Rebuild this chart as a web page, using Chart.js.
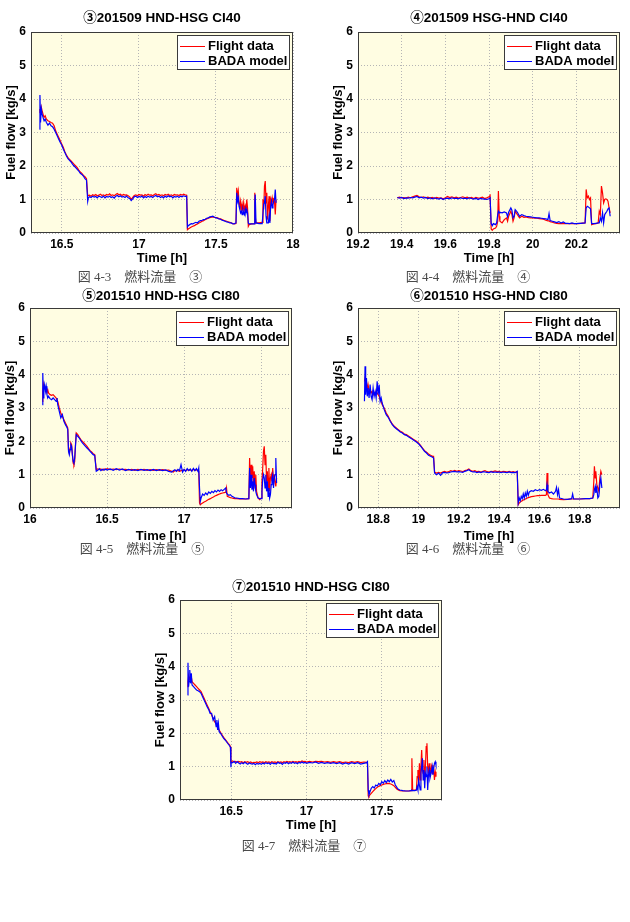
<!DOCTYPE html>
<html>
<head>
<meta charset="utf-8">
<script src="https://cdn.jsdelivr.net/npm/chart.js@4.4.1/dist/chart.umd.min.js"></script>
<style>
  html, body { margin: 0; padding: 0; background: #fff; }
  #page { position: relative; width: 630px; height: 922px; overflow: hidden; }
  .cap {
    position: absolute; transform: translate(-50%, -50%); white-space: nowrap;
    font-family: "Liberation Serif", "Noto Sans CJK JP", serif; font-size: 13px; color: #4a4a4a;
  }
</style>
</head>
<body>
<div id="page"></div>
<script>
// ── shared ──────────────────────────────────────────────
const seriesLabels = ["Flight data", "BADA model"];
const seriesColors = ["#ff0000", "#0000ff"];
const yTicks = [0, 1, 2, 3, 4, 5, 6];
const yTitle = "Fuel flow [kg/s]";
const xTitle = "Time [h]";

// ── ③ 201509 HND-HSG CI40 ───────────────────────────────
const title3 = "③201509 HND-HSG CI40";
const caption3 = "図 4-3　燃料流量　③";
const xRange3 = [16.3, 18];
const xTicks3 = [16.5, 17, 17.5, 18];
const time3 = [
  16.355, 16.358, 16.362, 16.367, 16.372, 16.378, 16.385, 16.392, 16.40, 16.41,
  16.42, 16.43, 16.44, 16.45, 16.46, 16.47, 16.48, 16.49, 16.50, 16.51,
  16.52, 16.53, 16.54, 16.55, 16.56, 16.57, 16.58, 16.59, 16.60, 16.61,
  16.62, 16.63, 16.64, 16.65, 16.66, 16.668, 16.672, 16.68, 16.69, 16.70,
  16.71, 16.72, 16.73, 16.74, 16.75, 16.76, 16.77, 16.78, 16.79, 16.80,
  16.81, 16.82, 16.83, 16.84, 16.85, 16.86, 16.87, 16.88, 16.89, 16.90,
  16.91, 16.92, 16.93, 16.94, 16.95, 16.96, 16.97, 16.98, 16.99, 17.00,
  17.01, 17.02, 17.03, 17.04, 17.05, 17.06, 17.07, 17.08, 17.09, 17.10,
  17.11, 17.12, 17.13, 17.14, 17.15, 17.16, 17.17, 17.18, 17.19, 17.20,
  17.21, 17.22, 17.23, 17.24, 17.25, 17.26, 17.27, 17.28, 17.29, 17.30,
  17.31, 17.315, 17.32, 17.33, 17.34, 17.35, 17.36, 17.37, 17.38, 17.39,
  17.40, 17.41, 17.42, 17.43, 17.44, 17.45, 17.46, 17.47, 17.48, 17.49,
  17.50, 17.51, 17.52, 17.53, 17.54, 17.55, 17.56, 17.57, 17.58, 17.59,
  17.60, 17.61, 17.62, 17.63, 17.635, 17.64, 17.645, 17.65, 17.655, 17.66,
  17.665, 17.67, 17.675, 17.68, 17.685, 17.69, 17.695, 17.70, 17.705, 17.71,
  17.715, 17.73, 17.75, 17.752, 17.755, 17.76, 17.78, 17.80, 17.805, 17.81,
  17.815, 17.82, 17.825, 17.83, 17.835, 17.84, 17.845, 17.85, 17.855, 17.86,
  17.865, 17.87, 17.875, 17.88, 17.885, 17.89
];
const flight3 = [
  3.6, 3.7, 3.55, 3.75, 3.65, 3.55, 3.45, 3.5, 3.4, 3.35,
  3.33, 3.3, 3.28, 3.2, 3.05, 2.95, 2.85, 2.75, 2.65, 2.55,
  2.42, 2.33, 2.25, 2.2, 2.15, 2.1, 2.05, 2.0, 1.95, 1.88,
  1.82, 1.78, 1.72, 1.68, 1.62, 1.1, 1.12, 1.13, 1.1, 1.14,
  1.12, 1.15, 1.11, 1.13, 1.16, 1.12, 1.14, 1.11, 1.15, 1.13,
  1.17, 1.12, 1.14, 1.11, 1.15, 1.18, 1.14, 1.16, 1.12, 1.15,
  1.13, 1.14, 1.11, 1.08, 1.0, 1.06, 1.12, 1.14, 1.11, 1.15,
  1.13, 1.14, 1.1, 1.15, 1.12, 1.16, 1.13, 1.14, 1.11, 1.15,
  1.17, 1.13, 1.15, 1.12, 1.14, 1.11, 1.15, 1.13, 1.16, 1.12,
  1.14, 1.11, 1.15, 1.13, 1.14, 1.12, 1.15, 1.13, 1.16, 1.14,
  1.13, 0.1, 0.12, 0.15, 0.18, 0.2, 0.22, 0.25, 0.27, 0.3,
  0.32, 0.35, 0.37, 0.4, 0.42, 0.44, 0.46, 0.47, 0.48, 0.47,
  0.46, 0.45, 0.43, 0.42, 0.4, 0.38, 0.36, 0.35, 0.33, 0.32,
  0.3, 0.28, 0.27, 0.28, 1.35, 1.1, 1.25, 0.9, 0.8, 0.95,
  0.7, 0.85, 0.65, 0.9, 0.7, 0.8, 0.6, 1.0, 0.75, 0.2,
  0.25, 0.27, 0.28, 1.2, 0.5, 0.3, 0.3, 0.32, 1.0, 0.7,
  1.4, 1.55, 0.9, 1.2, 0.4, 0.8, 1.1, 0.35, 1.0, 0.9,
  1.05, 0.9, 1.0, 0.95, 0.55, 1.0
];
const bada3 = [
  3.1, 4.12, 3.3, 3.7, 3.55, 3.45, 3.35, 3.4, 3.3, 3.22,
  3.28, 3.2, 3.17, 3.1, 3.0, 2.9, 2.8, 2.7, 2.62, 2.5,
  2.4, 2.3, 2.22, 2.17, 2.12, 2.05, 2.0, 1.95, 1.9, 1.85,
  1.78, 1.75, 1.7, 1.62, 1.58, 0.95, 1.05, 1.08, 1.06, 1.1,
  1.07, 1.09, 1.05, 1.1, 1.08, 1.06, 1.1, 1.05, 1.09, 1.07,
  1.1, 1.06, 1.08, 1.04, 1.1, 1.12, 1.08, 1.11, 1.07, 1.09,
  1.06, 1.1, 1.05, 1.03, 0.97, 1.02, 1.08, 1.1, 1.06, 1.09,
  1.07, 1.1, 1.05, 1.09, 1.06, 1.1, 1.07, 1.09, 1.06, 1.1,
  1.12, 1.08, 1.1, 1.06, 1.09, 1.05, 1.1, 1.07, 1.11, 1.08,
  1.1, 1.05, 1.09, 1.07, 1.1, 1.06, 1.1, 1.08, 1.11, 1.09,
  1.1, 0.18, 0.22, 0.25, 0.28, 0.27, 0.3, 0.32, 0.3, 0.35,
  0.37, 0.38, 0.4, 0.41, 0.44, 0.45, 0.48, 0.49, 0.5, 0.47,
  0.46, 0.44, 0.42, 0.41, 0.38, 0.37, 0.35, 0.33, 0.32, 0.3,
  0.3, 0.27, 0.28, 0.3, 1.2, 0.95, 1.05, 0.8, 0.7, 0.6,
  0.65, 0.55, 0.7, 0.6, 0.55, 0.72, 0.6, 0.7, 0.6, 0.3,
  0.27, 0.27, 0.27, 0.9, 1.15, 0.3, 0.28, 0.28, 0.28, 0.85,
  0.9, 1.1, 0.5, 0.3, 0.3, 0.3, 0.5, 0.3, 0.8, 0.95,
  0.75, 0.85, 0.95, 1.0, 1.3, 0.9
];

// ── ④ 201509 HSG-HND CI40 ───────────────────────────────
const title4 = "④201509 HSG-HND CI40";
const caption4 = "図 4-4　燃料流量　④";
const xRange4 = [19.2, 20.4];
const xTicks4 = [19.2, 19.4, 19.6, 19.8, 20, 20.2];
const time4 = [
  19.38, 19.39, 19.40, 19.41, 19.42, 19.43, 19.44, 19.45, 19.46, 19.47,
  19.48, 19.49, 19.50, 19.51, 19.52, 19.53, 19.54, 19.55, 19.56, 19.57,
  19.58, 19.59, 19.60, 19.61, 19.62, 19.63, 19.64, 19.65, 19.66, 19.67,
  19.68, 19.69, 19.70, 19.71, 19.72, 19.73, 19.74, 19.75, 19.76, 19.77,
  19.78, 19.79, 19.80, 19.805, 19.81, 19.815, 19.82, 19.83, 19.835, 19.84,
  19.843, 19.847, 19.85, 19.86, 19.87, 19.88, 19.885, 19.89, 19.90, 19.905,
  19.91, 19.915, 19.92, 19.93, 19.94, 19.95, 19.96, 19.97, 19.98, 19.99,
  20.00, 20.01, 20.02, 20.03, 20.04, 20.05, 20.06, 20.07, 20.075, 20.08,
  20.09, 20.10, 20.11, 20.12, 20.13, 20.14, 20.15, 20.16, 20.17, 20.18,
  20.19, 20.20, 20.21, 20.22, 20.24, 20.245, 20.25, 20.255, 20.26, 20.265,
  20.27, 20.28, 20.29, 20.30, 20.305, 20.31, 20.315, 20.32, 20.325, 20.33,
  20.335, 20.34, 20.345, 20.35, 20.355
];
const flight4 = [
  1.05, 1.07, 1.05, 1.06, 1.04, 1.07, 1.05, 1.08, 1.1, 1.12,
  1.08, 1.06, 1.08, 1.05, 1.07, 1.04, 1.06, 1.03, 1.06, 1.04,
  1.05, 1.02, 1.05, 1.09, 1.06, 1.08, 1.05, 1.07, 1.04, 1.06,
  1.08, 1.05, 1.07, 1.04, 1.06, 1.03, 1.06, 1.04, 1.05, 1.07,
  1.03, 1.05, 1.08, 1.12, 0.12, 0.08, 0.12, 0.15, 0.2, 0.35,
  1.25, 0.5, 0.35, 0.3, 0.4, 0.45, 0.35, 0.5, 0.65, 0.55,
  0.35, 0.45, 0.65, 0.55, 0.45, 0.5, 0.47, 0.48, 0.46, 0.45,
  0.45, 0.44, 0.44, 0.43, 0.42, 0.41, 0.38, 0.36, 0.36, 0.34,
  0.32, 0.3, 0.29, 0.28, 0.28, 0.28, 0.28, 0.28, 0.28, 0.28,
  0.28, 0.28, 0.28, 0.29, 0.3, 1.3, 1.05, 1.1, 1.0, 1.05,
  0.25, 0.27, 0.28, 0.3, 0.65, 0.55, 1.4, 1.2, 0.9, 1.0,
  1.02, 1.0, 0.95, 0.75, 0.6
];
const bada4 = [
  1.06, 1.04, 1.06, 1.03, 1.05, 1.04, 1.06, 1.05, 1.07, 1.09,
  1.05, 1.07, 1.04, 1.06, 1.03, 1.05, 1.02, 1.05, 1.03, 1.01,
  1.04, 1.0, 1.03, 1.04, 1.02, 1.05, 1.03, 1.04, 1.02, 1.05,
  1.03, 1.04, 1.02, 1.05, 1.03, 1.01, 1.04, 1.0, 1.03, 1.02,
  1.01, 1.0, 1.02, 1.05, 0.28, 0.22, 0.28, 0.25, 0.3, 0.55,
  0.65, 0.6, 0.62, 0.6, 0.63, 0.6, 0.48, 0.62, 0.75, 0.68,
  0.45, 0.5, 0.7, 0.62, 0.5, 0.55, 0.52, 0.5, 0.49, 0.48,
  0.47, 0.46, 0.45, 0.45, 0.44, 0.43, 0.42, 0.4, 0.58, 0.37,
  0.35, 0.33, 0.31, 0.34, 0.3, 0.33, 0.29, 0.29, 0.28, 0.3,
  0.28, 0.28, 0.29, 0.29, 0.3, 0.75, 0.8, 0.78, 0.75, 0.72,
  0.28, 0.28, 0.29, 0.3, 0.3, 0.45, 0.35, 0.6, 0.3, 0.55,
  0.6, 0.65, 0.72, 0.75, 0.5
];

// ── ⑤ 201510 HND-HSG CI80 ───────────────────────────────
const title5 = "⑤201510 HND-HSG CI80";
const caption5 = "図 4-5　燃料流量　⑤";
const xRange5 = [16, 17.7];
const xTicks5 = [16, 16.5, 17, 17.5];
const time5 = [
  16.08, 16.083, 16.087, 16.09, 16.095, 16.10, 16.105, 16.11, 16.115, 16.12,
  16.13, 16.14, 16.15, 16.16, 16.17, 16.175, 16.18, 16.19, 16.20, 16.21,
  16.22, 16.23, 16.24, 16.245, 16.25, 16.255, 16.26, 16.265, 16.27, 16.275,
  16.28, 16.285, 16.29, 16.295, 16.30, 16.31, 16.32, 16.33, 16.34, 16.35,
  16.36, 16.37, 16.38, 16.39, 16.40, 16.41, 16.42, 16.43, 16.44, 16.45,
  16.46, 16.47, 16.48, 16.49, 16.50, 16.52, 16.54, 16.56, 16.58, 16.60,
  16.62, 16.64, 16.66, 16.68, 16.70, 16.72, 16.74, 16.76, 16.78, 16.80,
  16.82, 16.84, 16.86, 16.88, 16.90, 16.92, 16.93, 16.94, 16.95, 16.96,
  16.97, 16.98, 16.99, 17.00, 17.01, 17.02, 17.03, 17.04, 17.05, 17.06,
  17.07, 17.08, 17.09, 17.095, 17.10, 17.105, 17.11, 17.12, 17.13, 17.14,
  17.15, 17.16, 17.17, 17.18, 17.19, 17.20, 17.21, 17.22, 17.23, 17.24,
  17.25, 17.26, 17.27, 17.275, 17.28, 17.29, 17.30, 17.31, 17.32, 17.33,
  17.34, 17.36, 17.38, 17.40, 17.42, 17.425, 17.43, 17.435, 17.44, 17.445,
  17.45, 17.455, 17.46, 17.465, 17.47, 17.48, 17.49, 17.50, 17.505, 17.51,
  17.515, 17.52, 17.525, 17.53, 17.535, 17.54, 17.545, 17.55, 17.555, 17.56,
  17.565, 17.57, 17.575, 17.58, 17.585, 17.59, 17.595, 17.60
];
const flight5 = [
  3.2, 3.5, 3.7, 3.6, 3.65, 3.6, 3.55, 3.5, 3.55, 3.45,
  3.4, 3.38, 3.4, 3.35, 3.3, 3.25, 3.2, 3.0, 2.85, 2.75,
  2.65, 2.55, 2.45, 2.4, 1.75, 1.65, 1.8, 1.95, 1.9, 1.6,
  1.35, 1.3, 1.4, 1.9, 2.25, 2.2, 2.12, 2.05, 2.0, 1.95,
  1.9, 1.85, 1.78, 1.72, 1.68, 1.63, 1.6, 1.15, 1.17, 1.15,
  1.17, 1.14, 1.17, 1.15, 1.18, 1.15, 1.17, 1.15, 1.17, 1.15,
  1.16, 1.14, 1.16, 1.13, 1.16, 1.14, 1.16, 1.13, 1.15, 1.13,
  1.15, 1.13, 1.15, 1.13, 1.14, 1.1, 1.08, 1.12, 1.13, 1.12,
  1.1, 1.12, 1.13, 1.14, 1.12, 1.15, 1.13, 1.15, 1.12, 1.16,
  1.13, 1.15, 1.12, 1.1, 0.15, 0.1, 0.12, 0.15, 0.18, 0.2,
  0.23, 0.26, 0.28, 0.31, 0.33, 0.36, 0.38, 0.4, 0.42, 0.44,
  0.45, 0.46, 0.47, 0.6, 0.35, 0.33, 0.31, 0.3, 0.29, 0.28,
  0.28, 0.27, 0.27, 0.27, 0.28, 1.5, 0.8, 1.3, 0.9, 1.25,
  0.7, 1.1, 0.6, 1.0, 0.5, 0.3, 0.25, 0.3, 0.8, 1.2,
  1.7, 1.85, 1.3, 1.6, 0.8, 1.1, 0.6, 1.2, 0.5, 0.9,
  1.0, 0.8, 1.2, 0.7, 1.0, 0.8, 0.65, 0.9
];
const bada5 = [
  3.1, 4.05, 3.3, 3.55, 3.7, 3.5, 3.65, 3.4, 3.3, 3.35,
  3.28, 3.25, 3.3, 3.25, 3.2, 3.3, 3.1, 2.9, 2.7, 2.8,
  2.6, 2.5, 2.42, 2.35, 1.7, 1.6, 1.75, 1.9, 1.85, 1.6,
  1.4, 1.35, 1.5, 1.85, 2.2, 2.15, 2.1, 2.02, 1.95, 1.9,
  1.85, 1.8, 1.75, 1.7, 1.65, 1.6, 1.58, 1.1, 1.13, 1.18,
  1.12, 1.16, 1.13, 1.17, 1.14, 1.17, 1.13, 1.18, 1.14, 1.17,
  1.12, 1.16, 1.13, 1.15, 1.12, 1.16, 1.13, 1.15, 1.12, 1.16,
  1.12, 1.15, 1.12, 1.14, 1.1, 1.08, 1.12, 1.15, 1.1, 1.16,
  1.12, 1.3, 1.08, 1.16, 1.1, 1.18, 1.12, 1.17, 1.1, 1.19,
  1.12, 1.18, 1.1, 1.2, 0.6, 0.2, 0.3, 0.42, 0.38, 0.45,
  0.4, 0.48, 0.44, 0.5, 0.46, 0.52, 0.48, 0.54, 0.5, 0.55,
  0.52, 0.56, 0.6, 0.45, 0.42, 0.38, 0.4, 0.35, 0.33, 0.3,
  0.3, 0.28, 0.28, 0.27, 0.28, 1.2, 0.6, 1.0, 0.55, 0.8,
  0.5, 0.9, 0.7, 0.5, 0.4, 0.3, 0.28, 0.28, 0.5, 0.85,
  1.0, 0.9, 0.6, 1.0, 0.5, 0.8, 0.35, 0.6, 0.3, 0.4,
  0.7, 0.9, 1.0, 0.6, 0.9, 1.0, 1.5, 0.75
];

// ── ⑥ 201510 HSG-HND CI80 ───────────────────────────────
const title6 = "⑥201510 HSG-HND CI80";
const caption6 = "図 4-6　燃料流量　⑥";
const xRange6 = [18.7, 20];
const xTicks6 = [18.8, 19, 19.2, 19.4, 19.6, 19.8];
const time6 = [
  18.732, 18.735, 18.738, 18.742, 18.746, 18.75, 18.755, 18.76, 18.765, 18.77,
  18.775, 18.78, 18.785, 18.79, 18.795, 18.80, 18.805, 18.81, 18.815, 18.82,
  18.83, 18.84, 18.85, 18.86, 18.87, 18.88, 18.89, 18.90, 18.91, 18.92,
  18.93, 18.94, 18.95, 18.96, 18.97, 18.98, 18.99, 19.00, 19.01, 19.02,
  19.03, 19.04, 19.05, 19.06, 19.07, 19.075, 19.08, 19.085, 19.09, 19.10,
  19.11, 19.12, 19.13, 19.14, 19.15, 19.16, 19.17, 19.18, 19.19, 19.20,
  19.21, 19.22, 19.23, 19.24, 19.25, 19.26, 19.27, 19.28, 19.29, 19.30,
  19.31, 19.32, 19.33, 19.34, 19.35, 19.36, 19.37, 19.38, 19.39, 19.40,
  19.41, 19.42, 19.43, 19.44, 19.45, 19.46, 19.47, 19.48, 19.49, 19.495,
  19.50, 19.505, 19.51, 19.515, 19.52, 19.525, 19.53, 19.535, 19.54, 19.545,
  19.55, 19.56, 19.57, 19.58, 19.59, 19.60, 19.61, 19.62, 19.63, 19.635,
  19.638, 19.642, 19.65, 19.66, 19.67, 19.68, 19.685, 19.69, 19.695, 19.70,
  19.72, 19.74, 19.76, 19.765, 19.77, 19.80, 19.83, 19.85, 19.865, 19.87,
  19.873, 19.877, 19.88, 19.885, 19.89, 19.895, 19.90, 19.905, 19.91
];
const flight6 = [
  3.8, 3.9, 3.6, 3.75, 3.55, 3.7, 3.5, 3.55, 3.45, 3.5,
  3.4, 3.45, 3.4, 3.5, 3.45, 3.4, 3.35, 3.25, 3.2, 3.1,
  3.0, 2.85, 2.75, 2.62, 2.52, 2.45, 2.4, 2.35, 2.3, 2.27,
  2.22, 2.2, 2.16, 2.12, 2.08, 2.04, 2.0, 1.95, 1.88, 1.8,
  1.72, 1.67, 1.62, 1.58, 1.55, 1.55, 1.08, 1.06, 1.05, 1.07,
  1.05, 1.08, 1.1, 1.07, 1.09, 1.12, 1.1, 1.13, 1.1, 1.12,
  1.11, 1.09, 1.12, 1.14, 1.17, 1.12, 1.1, 1.12, 1.09, 1.1,
  1.08, 1.1, 1.12, 1.09, 1.08, 1.1, 1.09, 1.11, 1.09, 1.1,
  1.08, 1.1, 1.09, 1.08, 1.1, 1.08, 1.09, 1.07, 1.09, 0.1,
  0.15, 0.18, 0.2, 0.22, 0.24, 0.25, 0.27, 0.28, 0.3, 0.31,
  0.32, 0.34, 0.35, 0.36, 0.37, 0.37, 0.38, 0.38, 0.38, 0.4,
  1.05, 0.4, 0.3, 0.28, 0.27, 0.27, 0.27, 0.27, 0.27, 0.26,
  0.25, 0.26, 0.27, 0.27, 0.27, 0.27, 0.28, 0.28, 0.3, 0.8,
  1.25, 0.9, 1.1, 0.7, 0.6, 0.5, 0.9, 1.1, 1.0
];
const bada6 = [
  3.2, 4.25, 3.4, 3.9, 3.35, 3.6, 3.3, 3.7, 3.35, 3.25,
  3.6, 3.35, 3.5, 3.3, 3.8, 3.4, 3.7, 3.2, 3.3, 3.15,
  2.95, 2.8, 2.72, 2.6, 2.5, 2.43, 2.38, 2.33, 2.28, 2.25,
  2.2, 2.18, 2.14, 2.1, 2.06, 2.02, 1.98, 1.93, 1.86, 1.78,
  1.7, 1.65, 1.58, 1.55, 1.52, 1.5, 1.05, 1.02, 1.0, 1.05,
  0.98, 1.06, 1.07, 1.05, 1.06, 1.08, 1.09, 1.1, 1.08, 1.09,
  1.08, 1.07, 1.1, 1.12, 1.15, 1.1, 1.08, 1.09, 1.06, 1.08,
  1.06, 1.09, 1.08, 1.07, 1.06, 1.09, 1.07, 1.08, 1.07, 1.08,
  1.06, 1.08, 1.07, 1.06, 1.08, 1.06, 1.07, 1.06, 1.1, 0.15,
  0.3, 0.22, 0.35, 0.28, 0.42, 0.3, 0.45, 0.35, 0.5, 0.38,
  0.48, 0.52, 0.5, 0.55, 0.52, 0.55, 0.53, 0.56, 0.52, 0.55,
  0.7, 0.5, 0.45, 0.48, 0.42, 0.5, 0.62, 0.4, 0.55, 0.3,
  0.27, 0.26, 0.28, 0.42, 0.27, 0.27, 0.28, 0.28, 0.3, 0.4,
  0.55, 0.65, 0.45, 0.6, 0.3, 0.35, 0.7, 0.9, 0.6
];

// ── ⑦ 201510 HND-HSG CI80 ───────────────────────────────
const title7 = "⑦201510 HND-HSG CI80";
const caption7 = "図 4-7　燃料流量　⑦";
const xRange7 = [16.16, 17.9];
const xTicks7 = [16.5, 17, 17.5];
const time7 = [
  16.21, 16.213, 16.217, 16.22, 16.225, 16.23, 16.235, 16.24, 16.25, 16.26,
  16.27, 16.28, 16.29, 16.30, 16.31, 16.32, 16.33, 16.34, 16.35, 16.36,
  16.37, 16.38, 16.39, 16.40, 16.405, 16.41, 16.415, 16.42, 16.43, 16.44,
  16.45, 16.46, 16.47, 16.48, 16.49, 16.495, 16.498, 16.50, 16.51, 16.52,
  16.53, 16.54, 16.55, 16.56, 16.57, 16.58, 16.59, 16.60, 16.61, 16.62,
  16.63, 16.64, 16.65, 16.66, 16.67, 16.68, 16.69, 16.70, 16.71, 16.72,
  16.73, 16.74, 16.75, 16.76, 16.77, 16.78, 16.79, 16.80, 16.81, 16.82,
  16.83, 16.84, 16.85, 16.86, 16.87, 16.88, 16.89, 16.90, 16.91, 16.92,
  16.93, 16.94, 16.95, 16.96, 16.97, 16.98, 16.99, 17.00, 17.02, 17.04,
  17.06, 17.08, 17.10, 17.12, 17.14, 17.16, 17.18, 17.20, 17.22, 17.24,
  17.26, 17.28, 17.30, 17.32, 17.34, 17.36, 17.38, 17.40, 17.405, 17.41,
  17.415, 17.42, 17.43, 17.44, 17.45, 17.46, 17.47, 17.48, 17.49, 17.50,
  17.51, 17.52, 17.53, 17.54, 17.55, 17.56, 17.57, 17.58, 17.59, 17.60,
  17.61, 17.62, 17.64, 17.66, 17.68, 17.695, 17.70, 17.705, 17.72, 17.73,
  17.735, 17.74, 17.745, 17.75, 17.755, 17.76, 17.765, 17.77, 17.775, 17.78,
  17.785, 17.79, 17.795, 17.80, 17.805, 17.81, 17.815, 17.82, 17.83, 17.835,
  17.84, 17.845, 17.85, 17.855, 17.86
];
const flight7 = [
  3.4, 3.55, 3.7, 3.6, 3.65, 3.6, 3.7, 3.55, 3.5, 3.45,
  3.4, 3.35, 3.3, 3.25, 3.15, 3.05, 2.95, 2.85, 2.75, 2.65,
  2.55, 2.45, 2.35, 2.28, 2.25, 2.2, 2.15, 2.1, 2.02, 1.95,
  1.88, 1.82, 1.76, 1.7, 1.65, 1.6, 1.1, 1.15, 1.17, 1.14,
  1.16, 1.13, 1.16, 1.14, 1.15, 1.12, 1.15, 1.13, 1.15, 1.12,
  1.14, 1.11, 1.13, 1.12, 1.14, 1.12, 1.15, 1.13, 1.14, 1.12,
  1.15, 1.13, 1.14, 1.12, 1.15, 1.13, 1.14, 1.12, 1.15, 1.13,
  1.14, 1.12, 1.15, 1.13, 1.16, 1.14, 1.15, 1.13, 1.16, 1.14,
  1.15, 1.13, 1.16, 1.14, 1.17, 1.15, 1.16, 1.14, 1.16, 1.14,
  1.16, 1.15, 1.16, 1.14, 1.15, 1.13, 1.15, 1.13, 1.15, 1.12,
  1.14, 1.12, 1.15, 1.13, 1.15, 1.12, 1.14, 1.13, 1.1, 0.12,
  0.1, 0.15, 0.2, 0.25, 0.3, 0.34, 0.38, 0.41, 0.43, 0.45,
  0.47, 0.48, 0.49, 0.5, 0.49, 0.48, 0.46, 0.43, 0.38, 0.33,
  0.3, 0.28, 0.27, 0.27, 0.27, 0.28, 1.25, 0.3, 0.3, 0.3,
  0.7, 0.9, 0.5, 1.1, 0.6, 1.0, 1.5, 0.9, 0.8, 1.2,
  0.6, 1.0, 1.6, 1.7, 1.0, 0.8, 1.1, 0.7, 1.0, 0.8,
  1.05, 0.9, 0.6, 0.85, 0.7
];
const bada7 = [
  3.15, 4.12, 3.4, 3.55, 3.9, 3.5, 3.8, 3.45, 3.4, 3.35,
  3.3, 3.28, 3.25, 3.2, 3.1, 3.0, 2.9, 2.8, 2.72, 2.6,
  2.6, 2.4, 2.5, 2.2, 2.4, 2.1, 2.3, 2.05, 2.0, 1.92,
  1.85, 1.8, 1.74, 1.68, 1.62, 1.58, 0.98, 1.12, 1.12, 1.16,
  1.1, 1.15, 1.11, 1.08, 1.12, 1.09, 1.13, 1.1, 1.07, 1.11,
  1.09, 1.08, 1.1, 1.06, 1.1, 1.08, 1.1, 1.07, 1.11, 1.08,
  1.12, 1.09, 1.11, 1.07, 1.12, 1.09, 1.1, 1.08, 1.13, 1.1,
  1.11, 1.07, 1.12, 1.1, 1.13, 1.09, 1.12, 1.1, 1.14, 1.1,
  1.12, 1.09, 1.13, 1.11, 1.14, 1.11, 1.13, 1.1, 1.13, 1.11,
  1.14, 1.1, 1.13, 1.1, 1.12, 1.1, 1.12, 1.09, 1.12, 1.08,
  1.11, 1.08, 1.12, 1.09, 1.12, 1.08, 1.1, 1.12, 1.15, 0.3,
  0.15, 0.22, 0.35, 0.4, 0.36, 0.45, 0.42, 0.5, 0.46, 0.55,
  0.5, 0.58, 0.52, 0.6, 0.55, 0.62, 0.54, 0.58, 0.45, 0.38,
  0.32, 0.3, 0.28, 0.27, 0.27, 0.28, 0.3, 0.28, 0.28, 0.3,
  0.4, 0.3, 0.6, 0.45, 0.3, 0.8, 1.0, 1.25, 0.6, 0.9,
  0.35, 0.8, 0.7, 1.0, 0.3, 0.75, 0.9, 0.65, 0.85, 1.0,
  0.75, 0.95, 1.1, 1.15, 1.05
];

// ── panel placement (page pixels) ───────────────────────
const panels = [
  { title: title3, caption: caption3, time: time3, flight: flight3, bada: bada3, xRange: xRange3, xTicks: xTicks3,
    left: 0,   top: 0,   area: { l: 31, t: 32, r: 293, b: 233 }, titleY: 18, xTitleDy: 25, cap: [140, 275] },
  { title: title4, caption: caption4, time: time4, flight: flight4, bada: bada4, xRange: xRange4, xTicks: xTicks4,
    left: 315, top: 0,   area: { l: 43, t: 32, r: 305, b: 233 }, titleY: 18, xTitleDy: 25, cap: [468, 275] },
  { title: title5, caption: caption5, time: time5, flight: flight5, bada: bada5, xRange: xRange5, xTicks: xTicks5,
    left: 0,   top: 282, area: { l: 30, t: 26, r: 292, b: 226 }, titleY: 14, xTitleDy: 28, cap: [142, 547] },
  { title: title6, caption: caption6, time: time6, flight: flight6, bada: bada6, xRange: xRange6, xTicks: xTicks6,
    left: 315, top: 282, area: { l: 43, t: 26, r: 305, b: 226 }, titleY: 14, xTitleDy: 28, cap: [468, 547] },
  { title: title7, caption: caption7, time: time7, flight: flight7, bada: bada7, xRange: xRange7, xTicks: xTicks7,
    left: 150, top: 575, area: { l: 30, t: 25, r: 292, b: 225 }, titleY: 12, xTitleDy: 25, cap: [304, 844] },
];

const FAMILY = "'Liberation Sans', 'Noto Sans CJK JP', sans-serif";
Chart.defaults.font.family = FAMILY;
Chart.defaults.color = "#000";

// yellow plot background, axes box and the boxed legend (MATLAB look)
const plotFrame = {
  id: "plotFrame",
  beforeDraw(chart) {
    const { ctx, chartArea: a } = chart;
    ctx.save();
    ctx.fillStyle = "#fffde2";
    ctx.fillRect(a.left, a.top, a.right - a.left, a.bottom - a.top);
    ctx.restore();
  },
  afterDatasetsDraw(chart) {
    const { ctx, chartArea: a } = chart;
    ctx.save();
    ctx.lineWidth = 1;
    ctx.strokeStyle = "#3a3a3a";
    ctx.strokeRect(a.left + 0.5, a.top + 0.5, a.right - a.left - 1, a.bottom - a.top - 1);

    const bw = 112, bh = 34;
    const bx = Math.round(a.right - 4 - bw), by = Math.round(a.top + 3);
    ctx.fillStyle = "#fff";
    ctx.fillRect(bx, by, bw, bh);
    ctx.strokeRect(bx + 0.5, by + 0.5, bw, bh);
    ctx.font = "bold 13px " + FAMILY;
    ctx.textBaseline = "middle";
    seriesLabels.forEach((label, i) => {
      const y = by + 11 + i * 15;
      ctx.strokeStyle = seriesColors[i];
      ctx.beginPath();
      ctx.moveTo(bx + 3, y + 0.5);
      ctx.lineTo(bx + 28, y + 0.5);
      ctx.stroke();
      ctx.fillStyle = "#000";
      ctx.fillText(label, bx + 31, y + 0.5);
    });
    ctx.restore();
  },
};

const page = document.getElementById("page");

function makePanel(p) {
  const w = 315, h = p.area.b + 40;
  const a = p.area;
  const cv = document.createElement("canvas");
  cv.width = w; cv.height = h;
  cv.style.cssText = `position:absolute;left:${p.left}px;top:${p.top}px;width:${w}px;height:${h}px`;
  page.appendChild(cv);

  const titleHalf = 13.5 * 1.2 / 2;
  const axisHalf = 13 * 1.2 / 2;

  new Chart(cv, {
    type: "line",
    data: {
      datasets: [
        { label: seriesLabels[0], data: p.time.map((x, i) => ({ x, y: p.flight[i] })),
          borderColor: seriesColors[0], order: 2 },
        { label: seriesLabels[1], data: p.time.map((x, i) => ({ x, y: p.bada[i] })),
          borderColor: seriesColors[1], order: 1 },
      ],
    },
    options: {
      responsive: false,
      animation: false,
      devicePixelRatio: 1,
      events: [],
      layout: { padding: { left: 0, top: 0, right: w - a.r, bottom: 0 } },
      elements: {
        point: { radius: 0 },
        line: { borderWidth: 1.2, tension: 0, fill: false },
      },
      plugins: {
        legend: { display: false },
        tooltip: { enabled: false },
        title: {
          display: true,
          text: p.title,
          fullSize: false,
          color: "#000",
          font: { size: 13.5, weight: "bold" },
          padding: { top: p.titleY - titleHalf, bottom: a.t - p.titleY - titleHalf },
        },
      },
      scales: {
        x: {
          type: "linear",
          min: p.xRange[0],
          max: p.xRange[1],
          afterFit: sc => { sc.height = h - a.b; },
          afterBuildTicks: sc => { sc.ticks = p.xTicks.map(v => ({ value: v })); },
          ticks: { autoSkip: false, maxRotation: 0, padding: 4, font: { size: 12, weight: "bold" },
                   callback: v => String(v) },
          grid: { color: "#b5b5b5", drawTicks: false },
          border: { display: false, dash: [1, 2] },
          title: { display: true, text: xTitle, font: { size: 13, weight: "bold" },
                   padding: { top: 0, bottom: (h - a.b) - p.xTitleDy - axisHalf } },
        },
        y: {
          type: "linear",
          min: 0,
          max: 6,
          afterFit: sc => { sc.width = a.l; },
          afterBuildTicks: sc => { sc.ticks = yTicks.map(v => ({ value: v })); },
          ticks: { autoSkip: false, padding: 5, font: { size: 12, weight: "bold" },
                   callback: v => String(v) },
          grid: { color: "#b5b5b5", drawTicks: false },
          border: { display: false, dash: [1, 2] },
          title: { display: true, text: yTitle, font: { size: 13, weight: "bold" },
                   padding: { top: (a.l - 20) - axisHalf, bottom: 0 } },
        },
      },
    },
    plugins: [plotFrame],
  });

  const cap = document.createElement("div");
  cap.className = "cap";
  cap.textContent = p.caption;
  cap.style.left = p.cap[0] + "px";
  cap.style.top = p.cap[1] + "px";
  page.appendChild(cap);
}

panels.forEach(makePanel);
</script>
</body>
</html>
